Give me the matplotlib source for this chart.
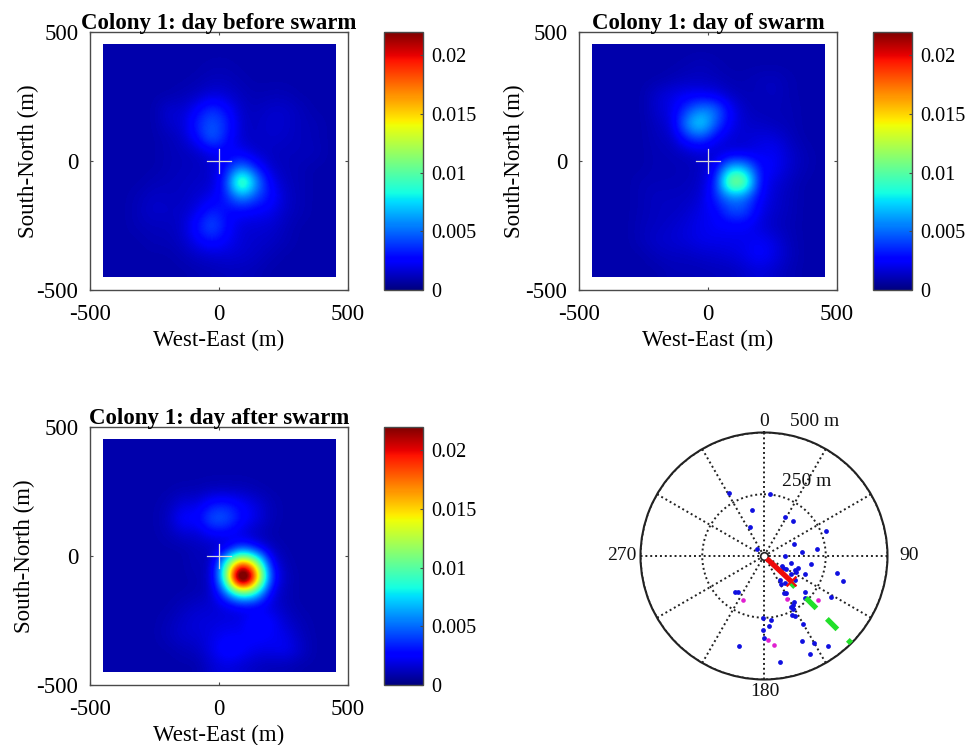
import numpy as np
import matplotlib
matplotlib.use("Agg")
import matplotlib.pyplot as plt

plt.rcParams['font.family'] = ['Liberation Serif', 'DejaVu Serif']

W, H = 966, 745
TITLES = ["Colony 1: day before swarm", "Colony 1: day of swarm", "Colony 1: day after swarm"]
XLABEL = "West-East (m)"
YLABEL = "South-North (m)"
AXIS_TICKS = [-500, 0, 500]
AXIS_LABELS = ["-500", "0", "500"]
CBAR_TICKS = [0, 0.005, 0.01, 0.015, 0.02]
CBAR_LABELS = ["0", "0.005", "0.01", "0.015", "0.02"]
VMAX = 0.022

DAY_BEFORE = [
 [9,9,9,9,9,9,9,9,9,9,9,9,9,9,9,9],
 [9,9,9,9,9,9,9,10,10,9,9,9,9,9,9,9],
 [9,9,9,9,9,9,10,12,12,10,9,9,9,9,9,9],
 [9,9,9,9,9,11,13,18,16,12,10,11,11,9,9,9],
 [9,9,9,9,17,15,26,40,28,14,12,15,15,12,9,9],
 [9,9,9,9,15,17,36,48,36,15,13,16,15,12,11,9],
 [9,9,9,9,11,14,28,52,30,15,13,15,14,12,11,9],
 [9,9,9,9,11,12,13,20,24,24,15,13,12,12,12,9],
 [9,9,9,9,11,12,13,15,30,56,34,15,12,11,9,9],
 [9,9,9,11,12,13,14,15,38,128,62,24,13,11,9,9],
 [9,9,11,14,13,13,16,21,34,60,42,30,15,11,9,9],
 [9,9,12,15,14,14,21,36,26,26,24,22,14,11,9,9],
 [9,9,11,12,12,15,32,48,28,17,17,16,12,9,9,9],
 [9,9,9,11,11,14,24,32,24,17,15,14,11,9,9,9],
 [9,9,9,9,9,11,14,16,17,16,14,11,9,9,9,9],
 [9,9,9,9,9,9,10,11,12,12,11,9,9,9,9,9],
]
DAY_OF = [
 [9,9,9,9,9,9,9,9,9,9,9,9,9,9,9,9],
 [9,9,9,9,9,9,10,12,10,9,9,9,9,9,9,9],
 [9,9,9,9,9,11,13,13,12,10,10,12,13,10,9,9],
 [9,9,9,9,16,20,23,23,20,13,11,11,13,10,9,9],
 [9,9,9,9,16,20,40,58,54,25,13,11,11,11,9,9],
 [9,9,9,9,13,18,60,84,46,23,15,14,12,11,9,9],
 [9,9,9,9,12,13,33,42,24,16,16,19,19,13,9,9],
 [9,9,9,9,11,11,13,16,14,18,18,21,24,16,11,9],
 [9,9,9,9,11,11,11,13,24,72,68,29,24,16,11,9],
 [9,9,9,11,11,11,12,14,32,128,118,28,18,13,9,9],
 [9,9,9,11,13,13,13,16,36,54,50,26,16,12,9,9],
 [9,9,9,11,13,13,15,21,24,44,44,21,15,12,9,9],
 [9,9,9,12,13,15,18,21,24,24,24,18,13,11,9,9],
 [9,9,9,12,15,16,18,21,21,21,21,24,19,12,9,9],
 [9,9,9,9,12,13,13,15,16,18,21,27,21,13,9,9],
 [9,9,9,9,9,11,11,11,12,12,15,18,15,11,9,9],
]
DAY_AFTER = [
 [9,9,9,9,9,9,9,9,9,9,9,9,9,9,9,9],
 [9,9,9,9,9,9,9,9,9,9,9,9,9,9,9,9],
 [9,9,9,9,9,9,9,9,9,9,9,9,9,9,9,9],
 [9,9,9,9,9,10,10,12,12,12,10,9,9,9,9,9],
 [9,9,9,9,11,19,19,32,34,26,19,11,9,9,9,9],
 [9,9,9,9,13,29,26,50,48,29,21,11,9,9,9,9],
 [9,9,9,9,11,16,16,24,24,16,11,9,9,9,9,9],
 [9,9,9,9,9,9,12,12,15,40,26,12,9,9,9,9],
 [9,9,9,9,9,9,12,10,95,180,130,26,10,9,9,9],
 [9,9,9,9,9,9,10,13,110,330,190,38,12,9,9,9],
 [9,9,9,9,9,9,10,13,56,110,90,21,11,9,9,9],
 [9,9,9,9,9,12,15,16,18,21,19,18,12,9,9,9],
 [9,9,9,9,11,15,18,18,19,19,32,27,16,11,9,9],
 [9,9,9,9,12,16,16,20,24,24,27,24,21,13,9,9],
 [9,9,9,9,9,11,13,21,32,27,21,21,24,16,9,9],
 [9,9,9,9,9,9,9,16,19,16,13,11,11,9,9,9],
]

# polar panel, metres east / north of the hive
BLUE_E = [-142,23,-47,84,119,-58,251,-30,122,216,154,86,108,191,73,78,88,137,126,130,164,296,321,109,66,70,85,126,-118,-107,80,91,168,273,166,123,119,109,116,115,124,-5,30,22,158,-3,1,154,203,259,-101,185,65]
BLUE_N = [254,249,188,159,142,119,100,27,47,27,18,0,-27,-34,-39,-47,-54,-47,-57,-65,-74,-70,-103,-73,-99,-115,-108,-97,-147,-147,-151,-149,-145,-168,-172,-185,-199,-208,-216,-239,-242,-252,-259,-282,-274,-301,-333,-345,-351,-363,-366,-395,-428]
MAGENTA_E = [-85,92,217,16,42]
MAGENTA_N = [-177,-174,-180,-339,-361]
GREEN_BEARING = 135
GREEN_R_START = [155, 240, 360, 480]
GREEN_R_END = [178, 300, 420, 500]
RED_BEARING = 133
RED_R = 153
RED_X_E = [110]
RED_X_N = [-101]
POLAR_TICKS = [250, 500]
POLAR_ANGLES = [0, 30, 60, 90, 120, 150, 180, 210, 240, 270, 300, 330]


def box(l, t, r, b, **kw):
    return plt.gcf().add_axes([l / W, 1 - b / H, (r - l) / W, (b - t) / H], **kw)


fig = plt.figure(figsize=(W / 100, H / 100), dpi=100)
GREY = '#4a4a4a'
FS = 16.5

panels = [(DAY_BEFORE, 90, 32, 28, 340), (DAY_OF, 579, 32, 514, 340), (DAY_AFTER, 90, 427, 24, 735)]
for title, (grid, l, t, ylx, xly) in zip(TITLES, panels):
    ax = box(l, t, l + 258, t + 258)
    img = ax.imshow(np.array(grid) * 1e-4, extent=[-450, 450, -450, 450], origin='upper',
                    cmap='jet', vmin=0, vmax=VMAX, interpolation='bicubic', zorder=1)
    ax.set_xlim(-500, 500)
    ax.set_ylim(-500, 500)
    ax.set_xticks(AXIS_TICKS, labels=AXIS_LABELS)
    ax.set_yticks(AXIS_TICKS, labels=AXIS_LABELS)
    ax.tick_params(direction='in', length=2.5, width=0.8, color=GREY, labelsize=FS, top=True, right=True)
    ax.tick_params(axis='x', pad=10)
    ax.tick_params(axis='y', pad=8.5)
    for s in ax.spines.values():
        s.set_color(GREY)
        s.set_linewidth(1.0)
    ax.plot([-46, 46], [0, 0], color='#d8d8d8', lw=0.9, zorder=3)
    ax.plot([0, 0], [-46, 46], color='#d8d8d8', lw=0.9, zorder=3)
    ax.set_title(title, fontsize=16.5, fontweight='bold', pad=2)
    ax.set_xlabel(XLABEL, fontsize=FS, va='center')
    ax.set_ylabel(YLABEL, fontsize=FS, va='center')
    ax.xaxis.set_label_coords(0.5, -(xly - (t + 258)) / 258)
    ax.yaxis.set_label_coords(-(l - ylx) / 258, 0.5)

    cax = box(l + 294, t, l + 333, t + 258)
    cb = fig.colorbar(img, cax=cax)
    cb.set_ticks(CBAR_TICKS, labels=CBAR_LABELS)
    cax.tick_params(direction='in', length=2.5, width=0.8, color=GREY, labelsize=14.6, pad=6)
    cb.outline.set_edgecolor(GREY)
    cb.outline.set_linewidth(1.0)

# polar panel
cx, cy, R = 764, 556, 123.5
pax = box(cx - R, cy - R, cx + R, cy + R, projection='polar')
pax.set_theta_zero_location('N')
pax.set_theta_direction(-1)
pax.set_rlim(0, 500)
pax.set_rticks(POLAR_TICKS)
pax.set_yticklabels([])
pax.set_thetagrids(POLAR_ANGLES, labels=[])
pax.grid(True, color='#222222', linestyle=(0, (1, 1.5)), linewidth=1.4)
pax.spines['polar'].set_color('#222222')
pax.spines['polar'].set_linewidth(1.5)
pax.set_axisbelow(True)


def to_polar(e, n):
    e, n = np.array(e, float), np.array(n, float)
    return np.arctan2(e, n), np.hypot(e, n)


th, r = to_polar(BLUE_E, BLUE_N)
pax.scatter(th, r, s=12, color='#1010e0', linewidths=0, zorder=3, clip_on=False)
th, r = to_polar(MAGENTA_E, MAGENTA_N)
pax.scatter(th, r, s=11, color='#e020d0', linewidths=0, zorder=3)
gb = np.deg2rad(GREEN_BEARING)
for r0, r1 in zip(GREEN_R_START, GREEN_R_END):
    pax.plot([gb, gb], [r0, r1], color='#22e02a', lw=3.8, solid_capstyle='butt', zorder=4)
rb = np.deg2rad(RED_BEARING)
th, r = to_polar(RED_X_E, RED_X_N)
pax.scatter(th, r, s=50, marker='x', color='#ee0a0a', linewidths=1.6, zorder=5)
pax.scatter([0], [0], s=30, facecolor='white', edgecolor='#222222', linewidths=1.2, zorder=6)
pax.plot([rb, rb], [15, RED_R], color='#ee0a0a', lw=3.8, solid_capstyle='butt', zorder=7)


def ptext(x, y, s):
    fig.text(x / W, 1 - y / H, s, fontsize=14, ha='center', va='center', color='#111111')


ptext(764, 421, "0")
ptext(815, 421, "500 m")
ptext(807, 481, "250 m")
ptext(622, 556, "270")
ptext(909, 556, "90")
ptext(765, 692, "180")

fig.savefig("out.png", dpi=100)
